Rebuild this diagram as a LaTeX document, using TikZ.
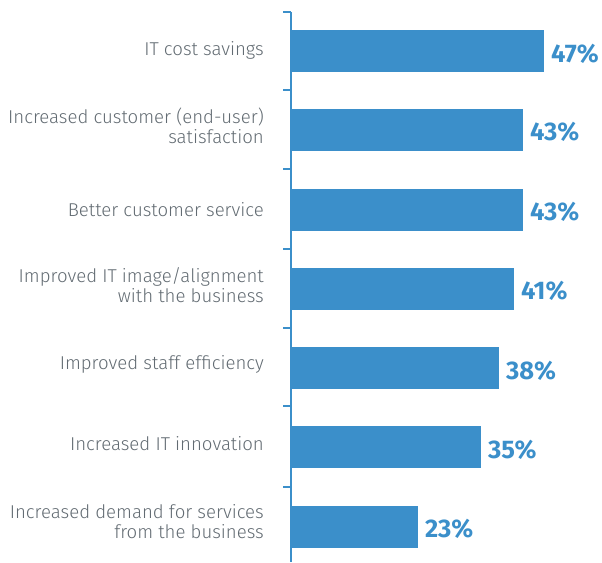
\documentclass[tikz,border=0pt]{standalone}
\usepackage{fontspec}
\setmainfont{Fira Sans}
\newfontfamily\lightfont{Fira Sans Light}
\definecolor{barblue}{HTML}{3B8FCA}
\definecolor{lblgrey}{HTML}{626B72}
\begin{document}
\begin{tikzpicture}[x=1pt,y=-1pt,
  bar/.style={fill=barblue, draw=none, inner sep=0pt, minimum height=42pt, anchor=west},
  lbl/.style={anchor=east, align=right, inner sep=0pt, text=lblgrey,
    font=\lightfont\fontsize{18.6}{20}\selectfont},
  val/.style={anchor=west, inner sep=0pt, text=barblue,
    font=\bfseries\fontsize{25.5}{27}\selectfont},
  axisline/.style={draw=barblue, line width=2pt}]
\useasboundingbox (0,0) rectangle (602,562);
% axis
\coordinate (axtop) at (290.5,12);
\coordinate (axbot) at (290.5,562);
\draw[axisline] (axtop) -- (axbot);
\foreach \t/\y in {1/12,2/90,3/169,4/249,5/328,6/406,7/487}{
  \coordinate (t\t) at (283,\y);
  \draw[axisline] (t\t) -- (t\t -| axtop);
}
% bars
\node[bar, minimum width=253pt] (b1) at (291,51) {};
\node[bar, minimum width=232pt] (b2) at (291,129.5) {};
\node[bar, minimum width=232pt] (b3) at (291,209.5) {};
\node[bar, minimum width=223pt] (b4) at (291,288.5) {};
\node[bar, minimum width=208pt] (b5) at (291,368) {};
\node[bar, minimum width=190pt] (b6) at (291,447) {};
\node[bar, minimum width=127pt] (b7) at (291,526.5) {};
% values
\foreach \i/\v in {1/47,2/43,3/43,4/41,5/38,6/35,7/23}{
  \node[val] (v\i) at ([xshift=6.5pt,yshift=-2.5pt]b\i.east) {\v\%};
}
% labels
\node[lbl] (l1) at (264,50) {IT cost savings};
\node[lbl] (l2) at (264,125.5) {Increased customer (end-user)\\satisfaction};
\node[lbl] (l3) at (264,209.5) {Better customer service};
\node[lbl] (l4) at (264,285) {Improved IT image/alignment\\with the business};
\node[lbl] (l5) at (264,364.5) {Improved staff efficiency};
\node[lbl] (l6) at (264,443.5) {Increased IT innovation};
\node[lbl] (l7) at (264,522) {Increased demand for services\\from the business};
\end{tikzpicture}
\end{document}
